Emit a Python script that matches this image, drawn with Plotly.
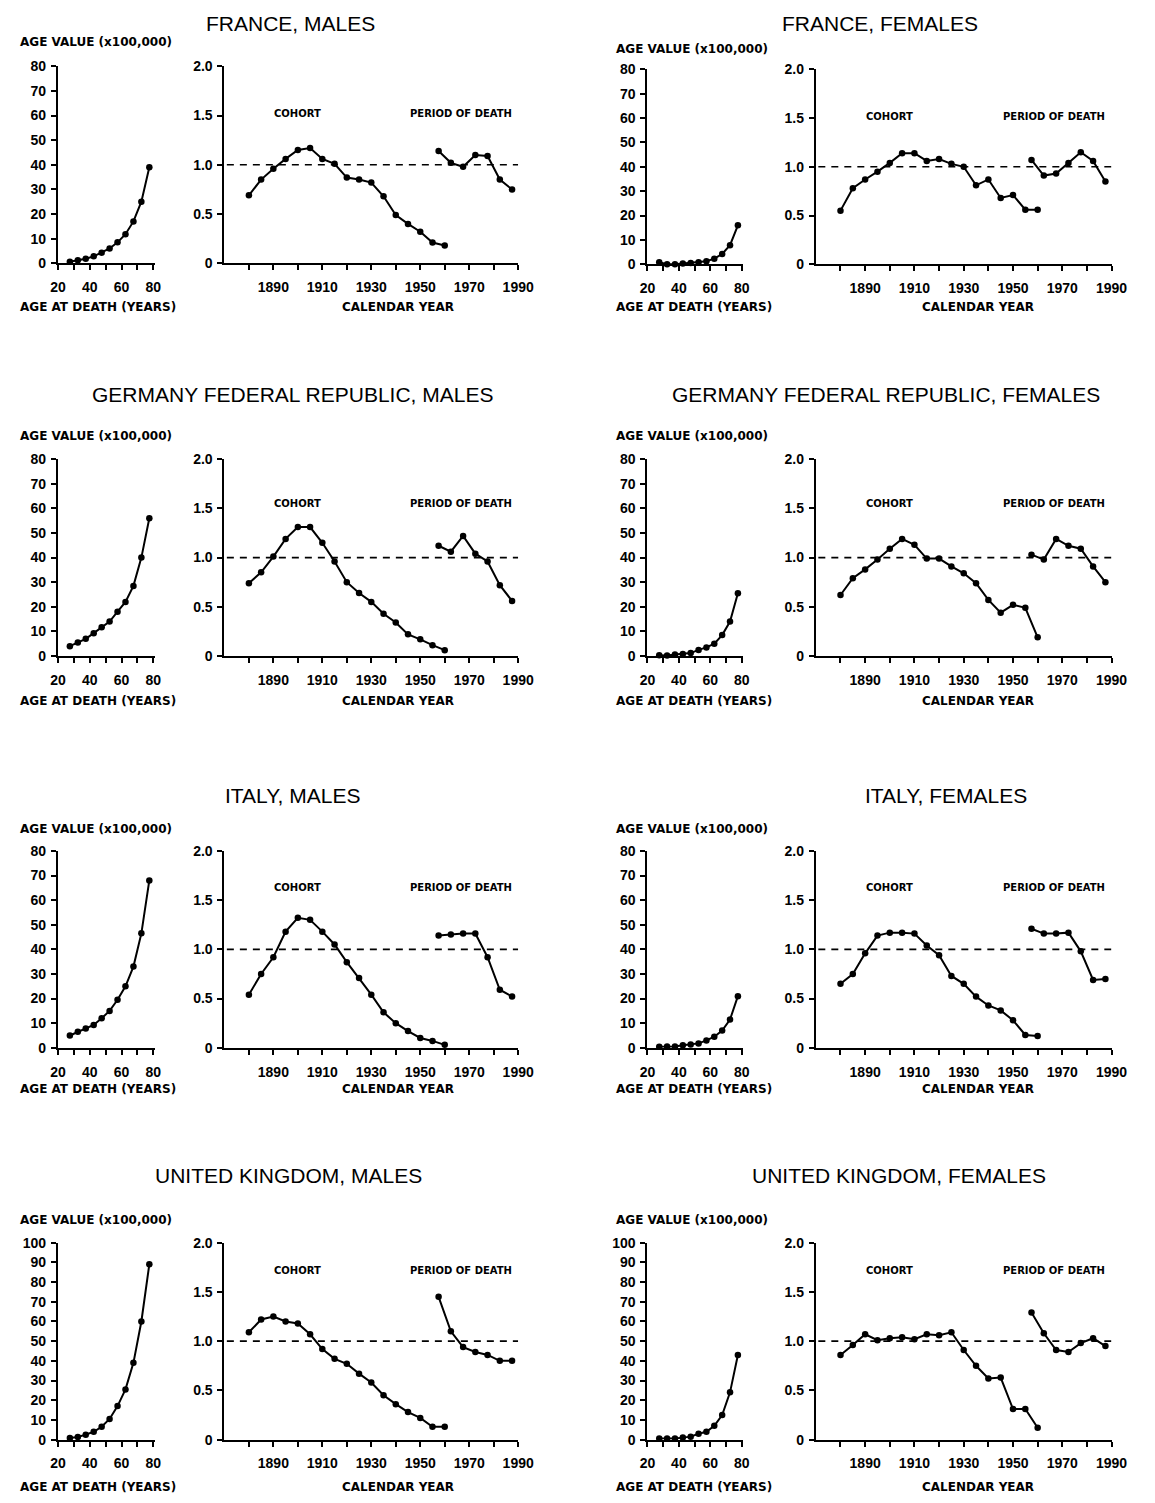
import plotly.graph_objects as go

W, H = 1155, 1503

# ---------------- data ----------------
AGES = [27.5, 32.5, 37.5, 42.5, 47.5, 52.5, 57.5, 62.5, 67.5, 72.5, 77.5]
COHORT_YEARS = [1880, 1885, 1890, 1895, 1900, 1905, 1910, 1915, 1920, 1925,
                1930, 1935, 1940, 1945, 1950, 1955, 1960]
PERIOD_YEARS = [1957.5, 1962.5, 1967.5, 1972.5, 1977.5, 1982.5, 1987.5]

PANEL_TITLES = ["FRANCE, MALES", "FRANCE, FEMALES",
                "GERMANY FEDERAL REPUBLIC, MALES", "GERMANY FEDERAL REPUBLIC, FEMALES",
                "ITALY, MALES", "ITALY, FEMALES",
                "UNITED KINGDOM, MALES", "UNITED KINGDOM, FEMALES"]

FR_M_AGE = [0.6, 1.2, 1.8, 2.8, 4.3, 6.0, 8.5, 11.8, 17.0, 25.0, 39.0]
FR_M_COH = [0.69, 0.85, 0.96, 1.06, 1.15, 1.17, 1.06, 1.01, 0.87, 0.85, 0.82,
            0.68, 0.49, 0.40, 0.32, 0.21, 0.18]
FR_M_PER = [1.14, 1.02, 0.98, 1.10, 1.09, 0.85, 0.75]

FR_F_AGE = [0.8, 0.0, 0.0, 0.3, 0.5, 0.8, 1.2, 2.3, 4.2, 7.8, 16.0]
FR_F_COH = [0.55, 0.78, 0.87, 0.95, 1.04, 1.14, 1.14, 1.06, 1.08, 1.03, 1.00,
            0.81, 0.87, 0.68, 0.71, 0.56, 0.56]
FR_F_PER = [1.07, 0.91, 0.93, 1.04, 1.15, 1.06, 0.85]

DE_M_AGE = [4.0, 5.5, 7.0, 9.3, 11.7, 14.0, 18.0, 22.0, 28.5, 40.0, 56.0]
DE_M_COH = [0.74, 0.85, 1.01, 1.19, 1.31, 1.31, 1.15, 0.96, 0.75, 0.64, 0.55,
            0.43, 0.34, 0.22, 0.17, 0.11, 0.06]
DE_M_PER = [1.12, 1.06, 1.22, 1.04, 0.96, 0.72, 0.56]

DE_F_AGE = [0.3, 0.2, 0.6, 0.8, 1.2, 2.5, 3.5, 5.0, 8.5, 14.0, 25.5]
DE_F_COH = [0.62, 0.79, 0.88, 0.98, 1.09, 1.19, 1.13, 0.99, 0.99, 0.91, 0.84,
            0.74, 0.57, 0.44, 0.52, 0.49, 0.19]
DE_F_PER = [1.03, 0.98, 1.19, 1.12, 1.09, 0.91, 0.75]

IT_M_AGE = [5.0, 6.5, 7.8, 9.3, 12.0, 15.0, 19.5, 25.0, 33.0, 46.5, 68.0]
IT_M_COH = [0.54, 0.75, 0.92, 1.18, 1.32, 1.30, 1.18, 1.05, 0.87, 0.71, 0.54,
            0.36, 0.25, 0.17, 0.10, 0.07, 0.03]
IT_M_PER = [1.14, 1.15, 1.16, 1.16, 0.92, 0.59, 0.52]

IT_F_AGE = [0.4, 0.5, 0.5, 1.0, 1.3, 1.8, 3.0, 4.5, 7.0, 11.5, 21.0]
IT_F_COH = [0.65, 0.75, 0.96, 1.14, 1.17, 1.17, 1.16, 1.04, 0.94, 0.73, 0.65,
            0.52, 0.43, 0.38, 0.28, 0.13, 0.12]
IT_F_PER = [1.21, 1.16, 1.16, 1.17, 0.98, 0.69, 0.70]

UK_M_AGE = [0.8, 1.3, 2.5, 4.0, 6.5, 10.5, 17.0, 25.5, 39.0, 60.0, 89.0]
UK_M_COH = [1.09, 1.22, 1.25, 1.20, 1.18, 1.07, 0.92, 0.82, 0.77, 0.67, 0.58,
            0.45, 0.36, 0.28, 0.22, 0.13, 0.13]
UK_M_PER = [1.45, 1.10, 0.94, 0.89, 0.86, 0.80, 0.80]

UK_F_AGE = [0.5, 0.5, 0.6, 1.0, 1.5, 3.0, 4.0, 7.0, 12.5, 24.0, 43.0]
UK_F_COH = [0.86, 0.96, 1.07, 1.01, 1.03, 1.04, 1.02, 1.07, 1.06, 1.09, 0.91,
            0.75, 0.62, 0.63, 0.31, 0.31, 0.12]
UK_F_PER = [1.29, 1.08, 0.91, 0.89, 0.98, 1.03, 0.95]

AGE_TICKS_80 = [0, 10, 20, 30, 40, 50, 60, 70, 80]
AGE_TICKS_100 = [0, 10, 20, 30, 40, 50, 60, 70, 80, 90, 100]
AGE_X_TICKS = [20, 30, 40, 50, 60, 70, 80]
AGE_X_LABELS = ["20", "", "40", "", "60", "", "80"]
YEAR_TICKS = [1880, 1890, 1900, 1910, 1920, 1930, 1940, 1950, 1960, 1970, 1980, 1990]
YEAR_LABELS = ["", "1890", "", "1910", "", "1930", "", "1950", "", "1970", "", "1990"]
RR_TICKS = [0, 0.5, 1.0, 1.5, 2.0]
RR_LABELS = ["0", "0.5", "1.0", "1.5", "2.0"]

DATA = [
    (FR_M_AGE, FR_M_COH, FR_M_PER), (FR_F_AGE, FR_F_COH, FR_F_PER),
    (DE_M_AGE, DE_M_COH, DE_M_PER), (DE_F_AGE, DE_F_COH, DE_F_PER),
    (IT_M_AGE, IT_M_COH, IT_M_PER), (IT_F_AGE, IT_F_COH, IT_F_PER),
    (UK_M_AGE, UK_M_COH, UK_M_PER), (UK_F_AGE, UK_F_COH, UK_F_PER),
]

# ---------------- layout geometry (page pixels) ----------------
COL_LEFT = [(51, 150), (653, 751)]
COL_RIGHT = [(221, 521), (825, 1127)]
ROW_Y = [[(59, 258), (62, 259)], [(456, 655)] * 2, [(852, 1051)] * 2, [(1248, 1447)] * 2]
TITLE_Y = [16, 391, 796, 1180]
TITLE_X = [[289, 890], [291, 897], [291, 958], [286, 910]]
AGEVAL_X = [10, 619]
AGEVAL_Y = [[34, 41], [433, 433], [830, 830], [1225, 1225]]
AXTITLE_Y = [302, 700, 1093, 1495]
CAL_X = [398, 991]
LABEL_RR = [1.52, 1.55, 1.63, 1.72]

TITLE_FONT = "Liberation Sans, Arial, sans-serif"
LABEL_FONT = "DejaVu Sans, Verdana, sans-serif"


def fx(px):
    return px / W


def fy(py):
    return 1 - py / H


fig = go.Figure()
layout = {}
annotations = []

for i, (title, (age_v, coh_v, per_v)) in enumerate(zip(PANEL_TITLES, DATA)):
    row, col = divmod(i, 2)
    ytop, ybot = ROW_Y[row][col]
    la = 2 * i + 1
    ra = 2 * i + 2
    lx, ly = f"x{la}", f"y{la}"
    rx, ry = f"x{ra}", f"y{ra}"
    lxk = "xaxis" if la == 1 else f"xaxis{la}"
    lyk = "yaxis" if la == 1 else f"yaxis{la}"
    rxk, ryk = f"xaxis{ra}", f"yaxis{ra}"
    ymax = 100 if row == 3 else 80
    yt = AGE_TICKS_100 if row == 3 else AGE_TICKS_80

    common = dict(showgrid=False, zeroline=False, showline=True, linecolor="black",
                  linewidth=2, ticks="outside", ticklen=5, tickwidth=1.5,
                  tickcolor="black", fixedrange=True,
                  tickfont=dict(family=TITLE_FONT, size=14, color="black", weight="bold"))

    layout[lxk] = dict(common, domain=[fx(COL_LEFT[col][0]), fx(COL_LEFT[col][1])],
                       range=[20, 81], anchor=ly, tickmode="array",
                       tickvals=AGE_X_TICKS, ticktext=AGE_X_LABELS, ticklabelstandoff=5)
    layout[lyk] = dict(common, domain=[fy(ybot), fy(ytop)], range=[0, ymax],
                       anchor=lx, tickmode="array", tickvals=yt,
                       ticktext=[str(v) for v in yt], ticklabelstandoff=2)
    layout[rxk] = dict(common, domain=[fx(COL_RIGHT[col][0]), fx(COL_RIGHT[col][1])],
                       range=[1870, 1990], anchor=ry, tickmode="array",
                       tickvals=YEAR_TICKS, ticktext=YEAR_LABELS, ticklabelstandoff=5)
    layout[ryk] = dict(common, domain=[fy(ybot), fy(ytop)], range=[0, 2.0],
                       anchor=rx, tickmode="array", tickvals=RR_TICKS,
                       ticktext=RR_LABELS, ticklabelstandoff=2)

    line = dict(color="black", width=2)
    mk = dict(color="black", size=6.5)
    fig.add_trace(go.Scatter(x=AGES, y=age_v, mode="lines+markers", line=line,
                             marker=mk, xaxis=lx, yaxis=ly, cliponaxis=False,
                             showlegend=False))
    fig.add_trace(go.Scatter(x=[1871, 1990], y=[1.0, 1.0], mode="lines",
                             line=dict(color="black", width=1.6, dash="7px,6px"),
                             xaxis=rx, yaxis=ry, showlegend=False))
    fig.add_trace(go.Scatter(x=COHORT_YEARS, y=coh_v, mode="lines+markers", line=line,
                             marker=mk, xaxis=rx, yaxis=ry, cliponaxis=False,
                             showlegend=False))
    fig.add_trace(go.Scatter(x=PERIOD_YEARS, y=per_v, mode="lines+markers", line=line,
                             marker=mk, xaxis=rx, yaxis=ry, cliponaxis=False,
                             showlegend=False))

    small = dict(family=LABEL_FONT, size=10, color="black", weight="bold")
    lab = dict(family=LABEL_FONT, size=12, color="black", weight="bold")
    annotations += [
        dict(text=title, xref="paper", x=fx(TITLE_X[row][col]), yref="paper",
             y=fy(TITLE_Y[row]), xanchor="center", yanchor="middle", showarrow=False,
             font=dict(family=TITLE_FONT, size=21, color="black")),
        dict(text="AGE VALUE (x100,000)", xref="paper", x=fx(AGEVAL_X[col]),
             yref="paper", y=fy(AGEVAL_Y[row][col]), xanchor="left",
             yanchor="middle", showarrow=False, font=lab),
        dict(text="AGE AT DEATH (YEARS)", xref="paper", x=fx(AGEVAL_X[col]),
             yref="paper", y=fy(AXTITLE_Y[row]), xanchor="left", yanchor="middle",
             showarrow=False, font=lab),
        dict(text="CALENDAR YEAR", xref="paper", x=fx(CAL_X[col]), yref="paper",
             y=fy(AXTITLE_Y[row]), xanchor="center", yanchor="middle",
             showarrow=False, font=lab),
        dict(text="COHORT", xref=rx, x=1900, yref=ry, y=LABEL_RR[row],
             xanchor="center", yanchor="middle", showarrow=False, font=small),
        dict(text="PERIOD OF DEATH", xref=rx, x=1966.5, yref=ry, y=LABEL_RR[row],
             xanchor="center", yanchor="middle", showarrow=False, font=small),
    ]

fig.update_layout(width=W, height=H, margin=dict(l=0, r=0, t=0, b=0),
                  plot_bgcolor="white", paper_bgcolor="white",
                  annotations=annotations, **layout)
fig.write_html("out.html", config={"displayModeBar": False},
               post_script="document.body.style.margin='0';"
                           "document.body.style.overflow='hidden';")
